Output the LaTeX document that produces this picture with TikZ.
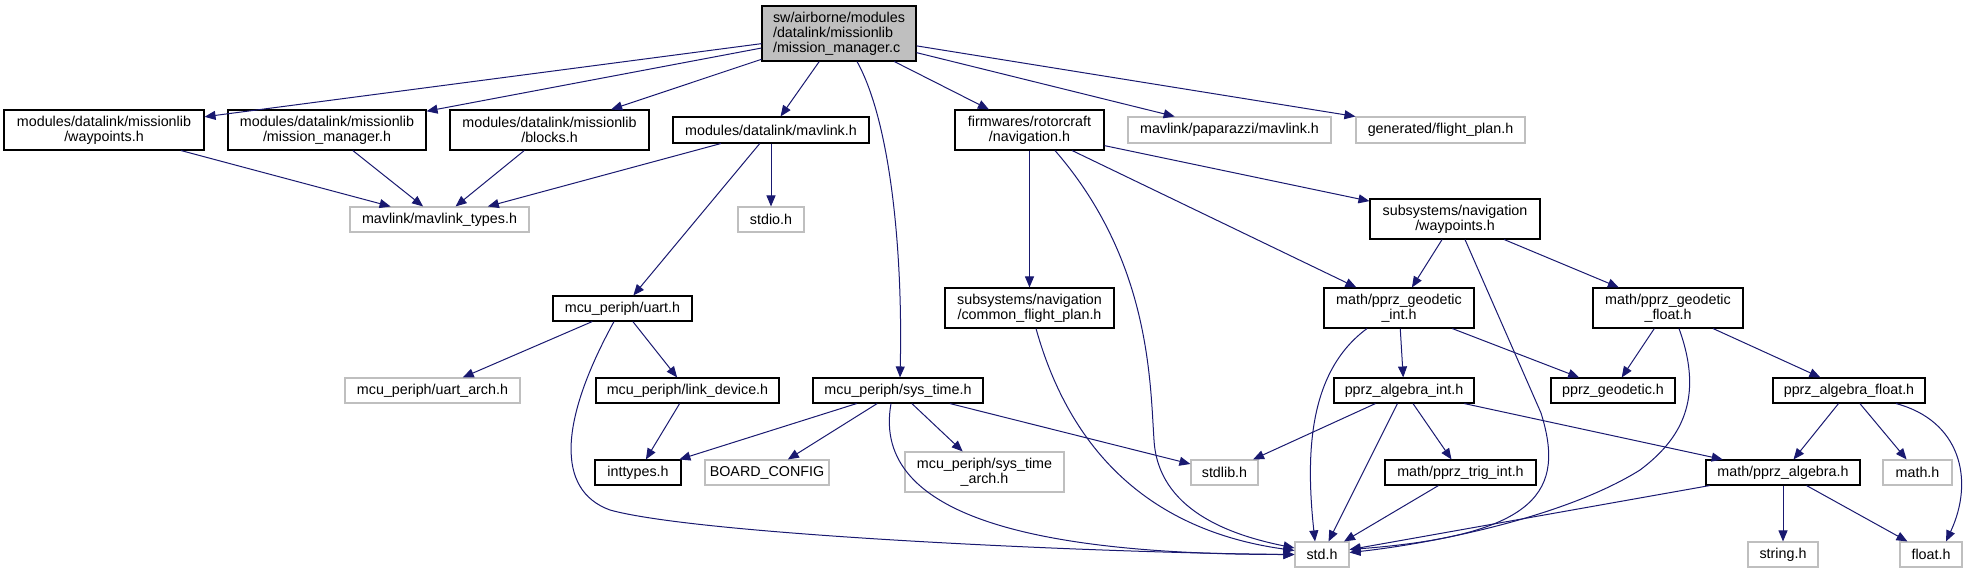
\documentclass[tikz,border=0pt]{standalone}
\usepackage{fontspec}
\setmainfont{Liberation Sans}
\usetikzlibrary{arrows.meta}
\definecolor{edgeblue}{HTML}{191970}
\definecolor{greyline}{HTML}{BFBFBF}

\tikzset{
  docnode/.style={draw=black, line width=1.1pt, fill=white, inner sep=0pt, align=center,
    font=\fontsize{14.3}{15}\selectfont},
  extnode/.style={docnode, draw=greyline},
  incl/.style={draw=edgeblue, line width=1pt, -{Triangle[length=11pt, width=9pt]}},
}

\begin{document}
\begin{tikzpicture}[x=1pt, y=-1pt]
    \useasboundingbox (0,0) rectangle (1975,573);

    % the file itself
    \node[docnode, fill=greyline, align=left, minimum width=154pt, minimum height=55pt] (root) at (839,33.5) {sw/airborne/modules\\/datalink/missionlib\\/mission\_manager.c};

    % direct includes
    \node[docnode, minimum width=200pt, minimum height=40pt] (wpml) at (104,130) {modules/datalink/missionlib\\/waypoints.h};
    \node[docnode, minimum width=198pt, minimum height=40pt] (mmh) at (327,130) {modules/datalink/missionlib\\/mission\_manager.h};
    \node[docnode, minimum width=199pt, minimum height=40pt] (blocks) at (549.5,130) {modules/datalink/missionlib\\/blocks.h};
    \node[docnode, minimum width=196pt, minimum height=26pt] (mavlink) at (771,130) {modules/datalink/mavlink.h};
    \node[docnode, minimum width=149pt, minimum height=40pt] (nav) at (1029.5,130) {firmwares/rotorcraft\\/navigation.h};
    \node[extnode, minimum width=203pt, minimum height=26pt] (papmav) at (1229.5,130) {mavlink/paparazzi/mavlink.h};
    \node[extnode, minimum width=169pt, minimum height=26pt] (fplan) at (1440.5,130) {generated/flight\_plan.h};

    % second row
    \node[extnode, minimum width=179pt, minimum height=25pt] (mavtypes) at (439.5,219.5) {mavlink/mavlink\_types.h};
    \node[extnode, minimum width=66pt, minimum height=25pt] (stdio) at (771,219.5) {stdio.h};
    \node[docnode, minimum width=170pt, minimum height=40pt] (navwp) at (1455,219) {subsystems/navigation\\/waypoints.h};

    % third row
    \node[docnode, minimum width=139pt, minimum height=25pt] (uart) at (622.5,308.5) {mcu\_periph/uart.h};
    \node[docnode, minimum width=169pt, minimum height=40pt] (commonfp) at (1029.5,308) {subsystems/navigation\\/common\_flight\_plan.h};
    \node[docnode, minimum width=150pt, minimum height=40pt] (geoint) at (1399,308) {math/pprz\_geodetic\\\_int.h};
    \node[docnode, minimum width=150pt, minimum height=40pt] (geofloat) at (1668,308) {math/pprz\_geodetic\\\_float.h};

    % fourth row
    \node[extnode, minimum width=175pt, minimum height=25pt] (uartarch) at (432.5,390.5) {mcu\_periph/uart\_arch.h};
    \node[docnode, minimum width=183pt, minimum height=25pt] (linkdev) at (687.5,390.5) {mcu\_periph/link\_device.h};
    \node[docnode, minimum width=170pt, minimum height=25pt] (systime) at (898,390.5) {mcu\_periph/sys\_time.h};
    \node[docnode, minimum width=140pt, minimum height=25pt] (algint) at (1404,390.5) {pprz\_algebra\_int.h};
    \node[docnode, minimum width=124pt, minimum height=25pt] (geodetic) at (1613,390.5) {pprz\_geodetic.h};
    \node[docnode, minimum width=152pt, minimum height=25pt] (algfloat) at (1849,390.5) {pprz\_algebra\_float.h};

    % fifth row
    \node[docnode, minimum width=86pt, minimum height=25pt] (inttypes) at (638,472.5) {inttypes.h};
    \node[extnode, minimum width=124pt, minimum height=25pt] (boardcfg) at (767,472.5) {BOARD\_CONFIG};
    \node[extnode, minimum width=159pt, minimum height=40pt] (systimearch) at (984.5,472) {mcu\_periph/sys\_time\\\_arch.h};
    \node[extnode, minimum width=67pt, minimum height=25pt] (stdlib) at (1224.5,472.5) {stdlib.h};
    \node[docnode, minimum width=151pt, minimum height=25pt] (trigint) at (1460.5,472.5) {math/pprz\_trig\_int.h};
    \node[docnode, minimum width=154pt, minimum height=25pt] (algebra) at (1783,472.5) {math/pprz\_algebra.h};
    \node[extnode, minimum width=69pt, minimum height=25pt] (mathh) at (1917.5,472.5) {math.h};

    % bottom row
    \node[extnode, minimum width=54pt, minimum height=25pt] (stdh) at (1322,554.5) {std.h};
    \node[extnode, minimum width=70pt, minimum height=25pt] (stringh) at (1783,554.5) {string.h};
    \node[extnode, minimum width=62pt, minimum height=25pt] (floath) at (1931,554.5) {float.h};

    % includes of the file itself
    \draw[incl] (root) -- (wpml);
    \draw[incl] (root) -- (mmh);
    \draw[incl] (root) -- (blocks);
    \draw[incl] (root) -- (mavlink);
    \draw[incl] (root) -- (nav);
    \draw[incl] (root) -- (papmav);
    \draw[incl] (root) -- (fplan);
    \draw[incl] ([xshift=18pt]root.south) .. controls +(33,59) and +(3,-128) .. ([xshift=2pt]systime.north);

    % missionlib headers
    \draw[incl] (wpml) -- (mavtypes);
    \draw[incl] (mmh) -- (mavtypes);
    \draw[incl] (blocks) -- (mavtypes);
    \draw[incl] (mavlink) -- (mavtypes);
    \draw[incl] (mavlink) -- (stdio);
    \draw[incl] (mavlink) -- (uart);

    % uart
    \draw[incl] (uart) -- (uartarch);
    \draw[incl] (uart) -- (linkdev);
    \draw[incl] ([xshift=-8.5pt]uart.south) .. controls (560,420) and (555,490) .. (610,510) .. controls (700,535) and (1100,553) .. (stdh.west);
    \draw[incl] (linkdev) -- (inttypes);

    % sys_time
    \draw[incl] (systime) -- (inttypes);
    \draw[incl] (systime) -- (boardcfg);
    \draw[incl] (systime) -- (systimearch);
    \draw[incl] (systime) -- (stdlib);
    \draw[incl] ([xshift=-7pt]systime.south) .. controls +(-21,117) and +(-245,0) .. (stdh.west);

    % navigation
    \draw[incl] (nav) -- (commonfp);
    \draw[incl] (nav) -- (geoint);
    \draw[incl] (nav) -- (navwp);
    \draw[incl] ([xshift=25.5pt]nav.south) .. controls (1150,260) and (1150,380) .. (1154,440) .. controls (1158,510) and (1230,535) .. ([yshift=6.5pt]stdh.west);
    \draw[incl] ([xshift=6.5pt]commonfp.south) .. controls +(34,122) and +(-145,-20) .. ([yshift=4pt]stdh.west);

    \draw[incl] (navwp) -- (geoint);
    \draw[incl] (navwp) -- (geofloat);
    \draw[incl] ([xshift=10pt]navwp.south) -- (1541,413) .. controls (1565,490) and (1540,535) .. ([yshift=5pt]stdh.east);

    % geodetic
    \draw[incl] (geoint) -- (algint);
    \draw[incl] (geoint) -- (geodetic);
    \draw[incl] ([xshift=-32pt]geoint.south) .. controls +(-57,42) and +(-10,-92) .. ([xshift=-7pt]stdh.north);
    \draw[incl] (geofloat) -- (geodetic);
    \draw[incl] (geofloat) -- (algfloat);
    \draw[incl] ([xshift=11pt]geofloat.south) .. controls (1705,400) and (1680,440) .. (1640,470) .. controls (1560,520) and (1420,545) .. ([yshift=2pt]stdh.east);

    % algebra
    \draw[incl] (algint) -- (stdlib);
    \draw[incl] (algint) -- (stdh);
    \draw[incl] (algint) -- (trigint);
    \draw[incl] (algint) -- (algebra);
    \draw[incl] (trigint) -- (stdh);
    \draw[incl] (algfloat) -- (algebra);
    \draw[incl] (algfloat) -- (mathh);
    \draw[incl] ([xshift=47pt]algfloat.south) .. controls +(64,17) and +(29,-62) .. ([xshift=15pt]floath.north);
    \draw[incl] (algebra) -- (stdh);
    \draw[incl] (algebra) -- (stringh);
    \draw[incl] (algebra) -- (floath);
\end{tikzpicture}
\end{document}
